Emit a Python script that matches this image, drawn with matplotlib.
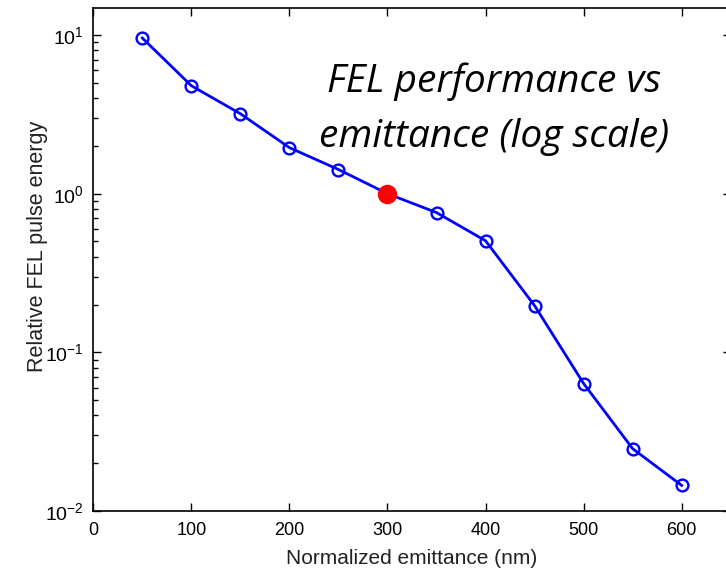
"""FEL pulse energy vs normalized emittance (log y), MATLAB-style figure."""
import matplotlib
matplotlib.use("Agg")
import matplotlib.pyplot as plt
from matplotlib.ticker import LogLocator, LogFormatterSciNotation, NullFormatter

# ---------------------------------------------------------------------------
# Data
# ---------------------------------------------------------------------------
emittance_nm = [50, 100, 150, 200, 250, 300, 350, 400, 450, 500, 550, 600]
rel_energy = [9.57, 4.79, 3.19, 1.95, 1.42, 1.0, 0.76, 0.505, 0.197,
              0.0636, 0.0247, 0.0145]
ref_x = [300]
ref_y = [1.0]
x_ticks = [0, 100, 200, 300, 400, 500, 600]

plt.rcParams["font.family"] = ["Liberation Sans", "DejaVu Sans"]
plt.rcParams["mathtext.default"] = "regular"

fig = plt.figure(figsize=(7.26, 5.69), dpi=100)
# right spine sits just past the image edge, as in the reference crop
ax = fig.add_axes([93.3 / 726, 58 / 569, 637.4 / 726, 503 / 569])

ax.plot(emittance_nm, rel_energy, color="#0000ff", linewidth=2.0,
        marker="o", markersize=8.5, markerfacecolor="none",
        markeredgewidth=1.7, markeredgecolor="#0000ff", zorder=3)
ax.plot(ref_x, ref_y, linestyle="none", marker="o", markersize=13,
        color="#ff0000", zorder=4)

ax.set_yscale("log")
ax.set_xlim(0, 650)
ax.set_ylim(0.01, 14.8)
ax.set_xticks(x_ticks)
ax.yaxis.set_major_locator(LogLocator(base=10, numticks=10))
ax.yaxis.set_major_formatter(LogFormatterSciNotation())
ax.yaxis.set_minor_locator(LogLocator(base=10, subs=range(2, 10), numticks=10))
ax.yaxis.set_minor_formatter(NullFormatter())

ax.tick_params(which="both", direction="in", top=True, left=True,
               labelsize=13, color="black", pad=8)
ax.tick_params(which="major", length=6, width=1, right=True)
ax.tick_params(which="minor", length=3.5, width=1, right=False)
ax.tick_params(axis="y", labelsize=14, pad=7)
for sp in ax.spines.values():
    sp.set_linewidth(1.2)

ax.set_xlabel("Normalized emittance (nm)", fontsize=15, color="#222222",
              labelpad=7)
ax.set_ylabel("Relative FEL pulse energy", fontsize=15.5, color="#222222")
ax.yaxis.set_label_coords(-0.071, 0.527)

# annotation in the upper right of the plot
title_kw = dict(fontsize=28, style="italic", family=["Open Sans", "DejaVu Sans"],
                ha="center", va="baseline", color="black")
fig.text(494 / 726, 1 - 92 / 569, "FEL performance vs", **title_kw)
fig.text(494 / 726, 1 - 147 / 569, "emittance (log scale)", **title_kw)

fig.savefig("out.png", dpi=100)
